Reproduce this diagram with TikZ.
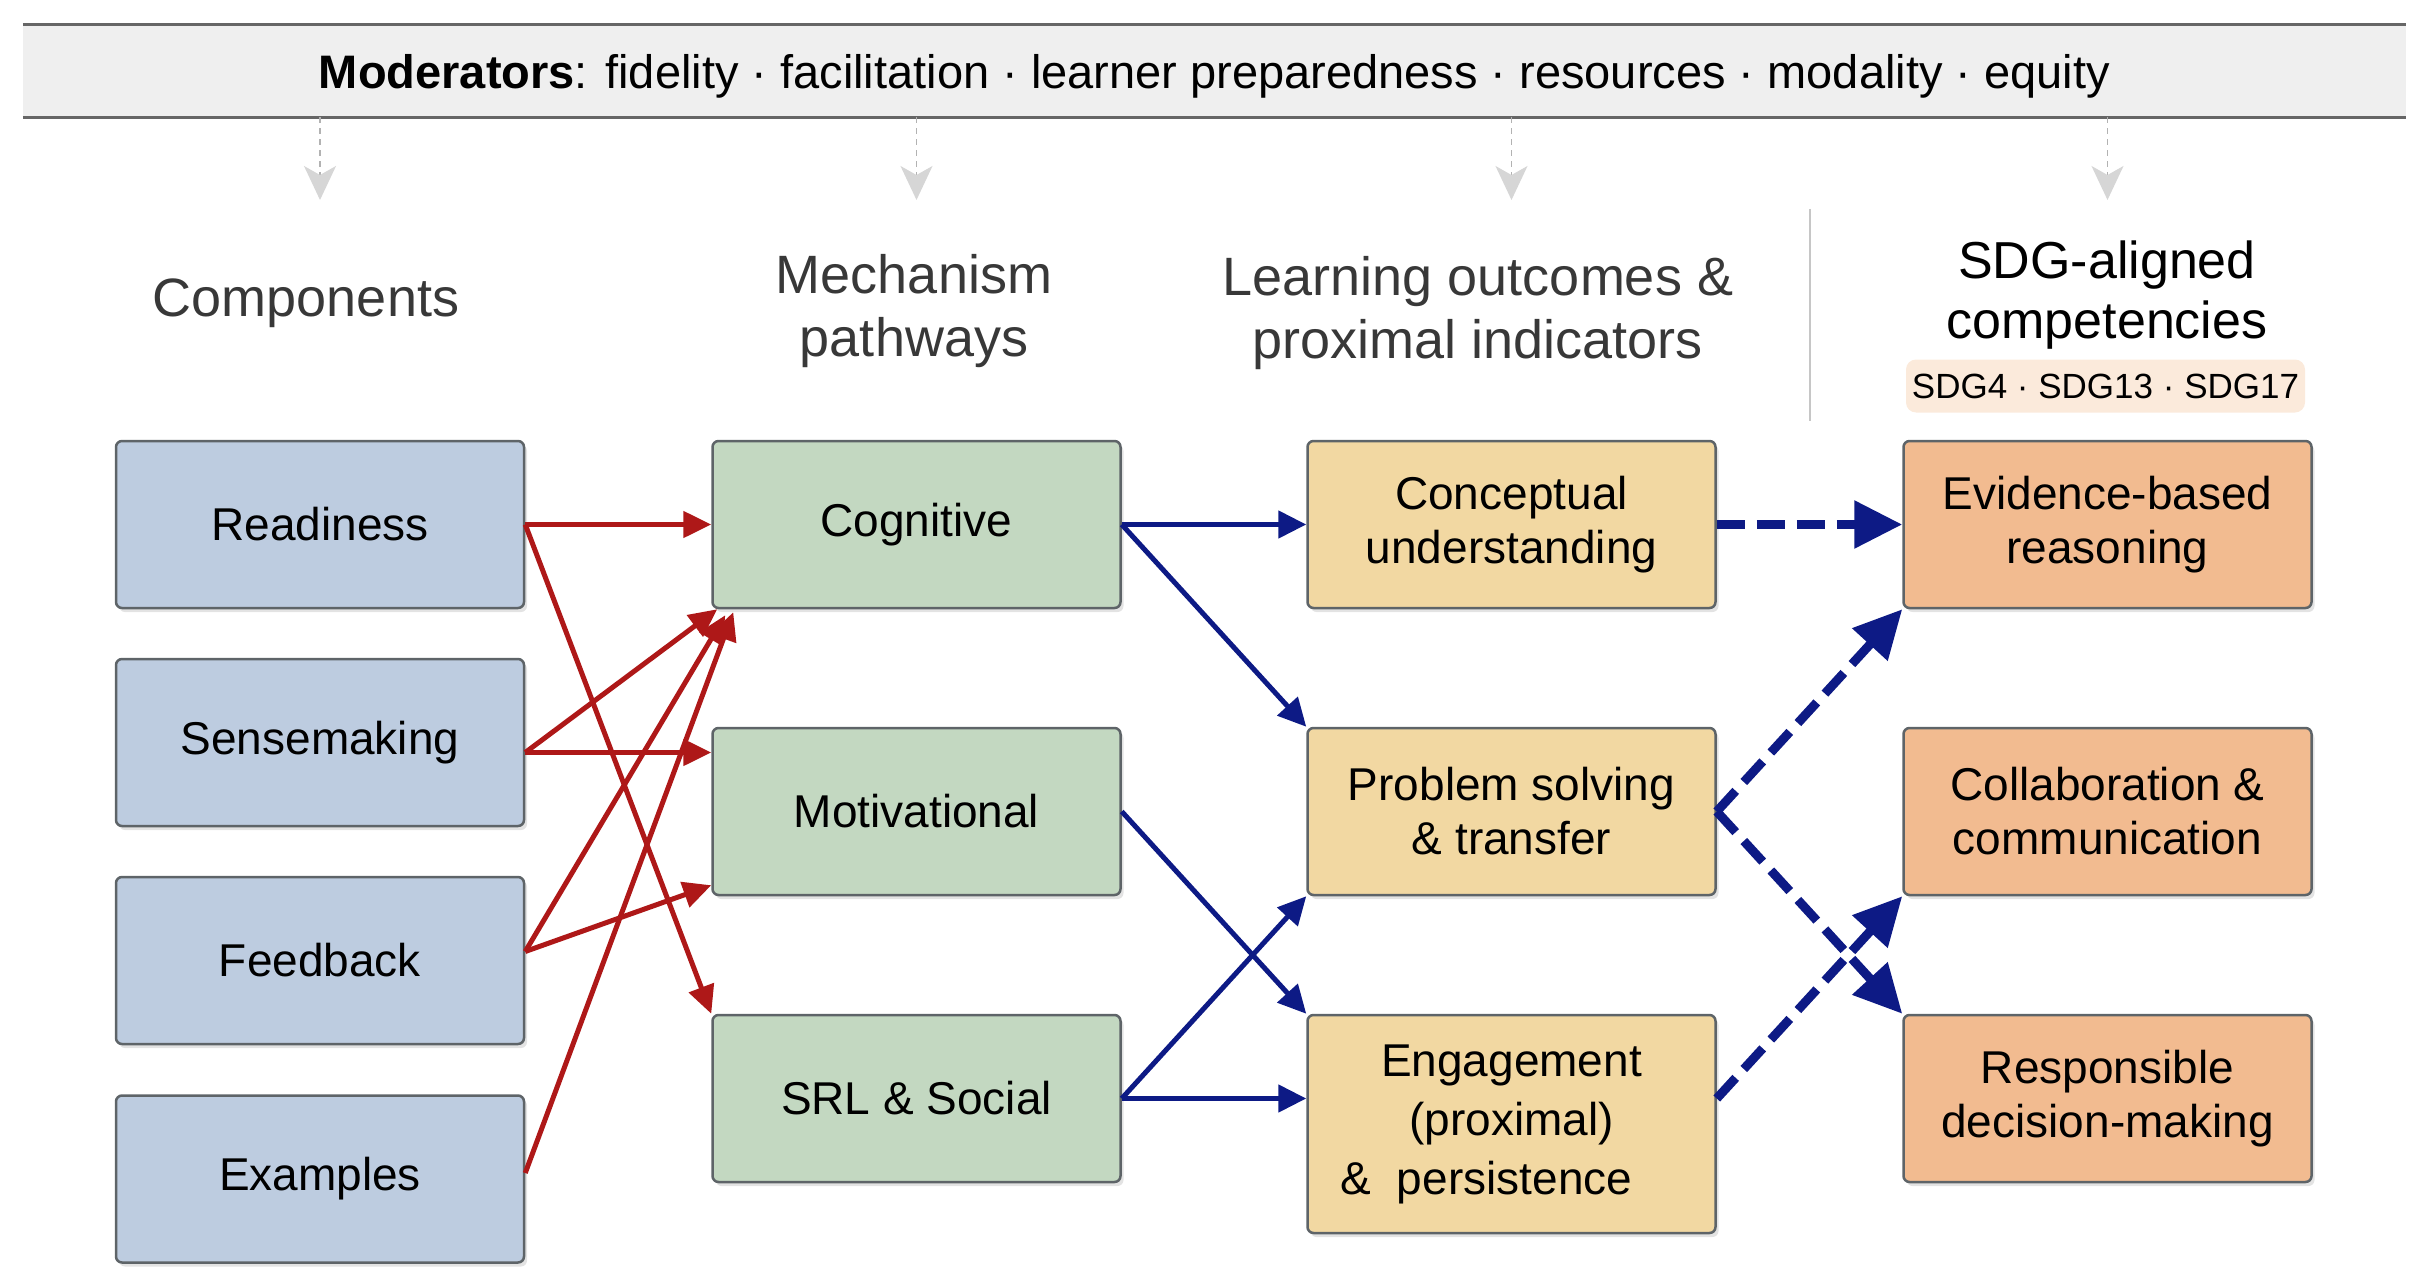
\documentclass[tikz,border=0pt]{standalone}
\usepackage{fontspec}
\setmainfont{Liberation Sans}
\usetikzlibrary{arrows.meta,calc,shadows}
\definecolor{bluefill}{HTML}{BDCCE0}
\definecolor{greenfill}{HTML}{C3D8C1}
\definecolor{yellowfill}{HTML}{F2D8A2}
\definecolor{orangefill}{HTML}{F2BB90}
\definecolor{boxline}{HTML}{5E6468}
\definecolor{arrred}{HTML}{AE1818}
\definecolor{arrblue}{HTML}{0D1A85}
\definecolor{bannerfill}{HTML}{EFEFEF}
\definecolor{bannerline}{HTML}{666666}
\definecolor{badgefill}{HTML}{FBEADB}
\definecolor{titlegray}{HTML}{383838}
\definecolor{modgray}{HTML}{D6D6D6}
\begin{document}
\begin{tikzpicture}[x=1pt,y=-1pt,
  basebox/.style={draw=boxline, line width=2.5pt, rounded corners=6pt,
    minimum width=408pt, minimum height=167pt, align=center, inner sep=0pt,
    font=\fontsize{46}{54}\selectfont, text=black,
    drop shadow={shadow xshift=3pt, shadow yshift=-4pt, opacity=0.22}},
  bbox/.style={basebox, fill=bluefill},
  gbox/.style={basebox, fill=greenfill},
  ybox/.style={basebox, fill=yellowfill},
  obox/.style={basebox, fill=orangefill},
  coltitle/.style={align=center, text=titlegray, font=\fontsize{54}{63}\selectfont, inner sep=0pt},
  redarr/.style={draw=arrred, line width=5pt, -{Triangle[length=28pt,width=26pt]}},
  bluearr/.style={draw=arrblue, line width=5pt, -{Triangle[length=28pt,width=27pt]}},
  dasharr/.style={draw=arrblue, line width=9pt, dash pattern=on 28pt off 12pt,
    -{Triangle[length=48pt,width=46pt]}},
  modarr/.style={draw=gray!60, line width=1.5pt, dash pattern=on 6pt off 5pt,
    -{Stealth[length=34pt,width=32pt,inset=9pt,color=modgray,fill=modgray]}}
]
\useasboundingbox (0,0) rectangle (2426,1284);

% banner
\node[fill=bannerfill, minimum width=2383pt, minimum height=92pt, inner sep=0pt] (ban) at (1214.5,71) {};
\node[font=\fontsize{47}{56}\selectfont, inner sep=0pt] (bantext) at ($(ban.center)+(0,5)$)
  {{\bfseries Moderators}: fidelity · facilitation · learner preparedness · resources · modality · equity};
\draw[bannerline, line width=3pt] (ban.north west) -- (ban.north east);
\draw[bannerline, line width=3pt] (ban.south west) -- (ban.south east);

% column titles
\node[coltitle] (t1) at (306,303) {Components};
\node[coltitle] (t2) at (914,311) {Mechanism\\pathways};
\node[coltitle] (t3) at (1478,313) {Learning outcomes \&\\proximal indicators};
\node[coltitle, text=black, font=\fontsize{52}{60}\selectfont] (t4) at (2107,295) {SDG-aligned\\competencies};
\node[fill=badgefill, rounded corners=10pt, minimum width=399pt, minimum height=53pt,
  inner sep=0pt, font=\fontsize{35}{40}\selectfont] (sdgs) at (2105.5,386)
  {SDG4 · SDG13 · SDG17};
\draw[gray!45, line width=2pt] (1810,209) -- (1810,421);

% boxes
\node[bbox] (read)  at (320,524.5) {Readiness};
\node[bbox] (sense) at (320,742.5) {Sensemaking};
\node[bbox] (feed)  at (320,960.5) {Feedback};
\node[bbox] (exa)   at (320,1179) {Examples};

\node[gbox] (cog) at (916.5,524.5) {Cognitive};
\node[gbox] (mot) at (916.5,811.5) {Motivational};
\node[gbox] (srl) at (916.5,1098.5) {SRL \& Social};

\node[ybox] (conc) at (1511.5,524.5) {Conceptual\\understanding};
\node[ybox] (prob) at (1511.5,811.5) {Problem solving\\\& transfer};
\node[ybox, minimum height=218pt, font=\fontsize{46}{59}\selectfont] (eng) at (1511.5,1124)
  {Engagement\\(proximal)\\\&\ \ persistence\hspace*{50pt}};

\node[obox] (evid) at (2107.5,524.5) {Evidence-based\\reasoning};
\node[obox] (coll) at (2107.5,811.5) {Collaboration \&\\communication};
\node[obox] (resp) at (2107.5,1098.5) {Responsible\\decision-making};

% moderator arrows
\coordinate (mtip) at (0,200);
\foreach \n in {read,cog,conc,evid}
  \draw[modarr] (ban.south -| \n) -- (mtip -| \n);

% red connectors
\coordinate (se) at ($(sense.east)+(0,10)$);
\coordinate (fe) at ($(feed.east)+(0,-9)$);
\coordinate (ee) at ($(exa.east)+(0,-6)$);
\draw[redarr] (read.east) -- (cog.west);
\draw[redarr] (read.east) -- (srl.north west);
\draw[redarr] (se) -- ($(cog.south west)+(6,0)$);
\draw[redarr] (se) -- (se -| mot.west);
\draw[redarr] (fe) -- ($(cog.south west)+(14,6)$);
\draw[redarr] (fe) -- ($(mot.south west)+(0,-11)$);
\draw[redarr] (ee) -- ($(cog.south west)+(22,3)$);

% blue connectors
\draw[bluearr] (cog.east) -- (conc.west);
\draw[bluearr] (cog.east) -- (prob.north west);
\draw[bluearr] (mot.east) -- (eng.north west);
\draw[bluearr] (srl.east) -- (prob.south west);
\draw[bluearr] (srl.east) -- (srl.east -| eng.west);

% dashed connectors
\draw[dasharr] (conc.east) -- (evid.west);
\draw[dasharr] (prob.east) -- (evid.south west);
\draw[dasharr] (prob.east) -- (resp.north west);
\draw[dasharr] (eng.east |- srl.east) -- (coll.south west);
\end{tikzpicture}
\end{document}
